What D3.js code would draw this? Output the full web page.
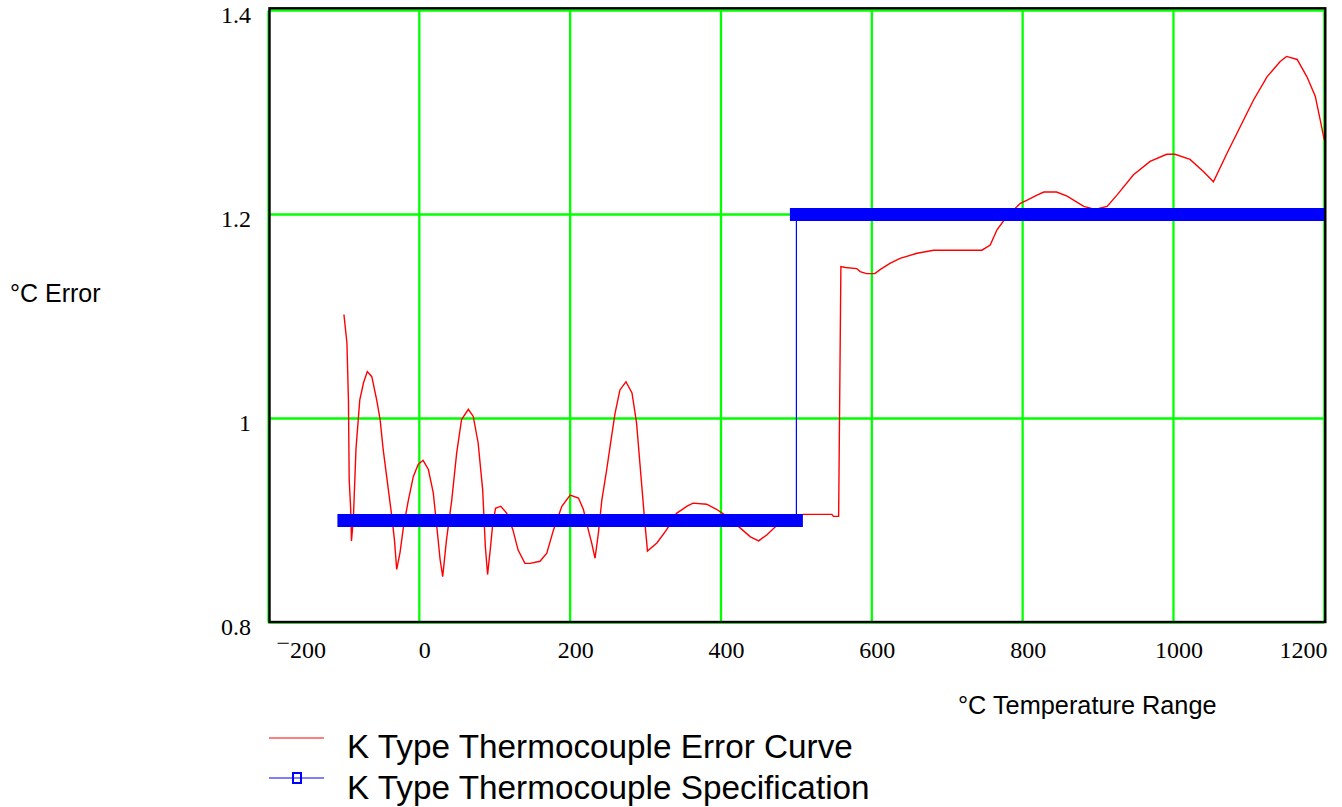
<!DOCTYPE html>
<html>
<head>
<meta charset="utf-8">
<script src="https://cdn.jsdelivr.net/npm/d3@7"></script>
<style>
  html, body { margin: 0; padding: 0; background: #fff; }
  svg { display: block; }
</style>
</head>
<body>
<svg id="chart" width="1342" height="807"></svg>
<script>
// ---- Data ----
const xTicks = [-200, 0, 200, 400, 600, 800, 1000, 1200];
const yTicks = [0.8, 1.0, 1.2, 1.4];
const yTickLabels = ["0.8", "1", "1.2", "1.4"];

// K type thermocouple error curve
const curveTemp = [-100,-96,-94,-93,-91,-90,-87.5,-84,-79,-74,-69,-63,-56.5,-52,-48,-41,-36.5,-33,-30,-25.5,-21,-14.5,-8,-1.5,5,12,18.5,24,27.5,31,36,43,49.5,56,65,71.5,78,84,87.5,90.5,94,97,101,108,116,124,131,140,147,160,169,178,189,200,211,217.5,224,228.5,233,237.5,242,248.5,253,259.5,266,274,282,288,293.5,298,302.5,315,328,341,355,363,381,394,408,425,439,450,461,478,500,509,547,549,556,559,565,580,584.5,593,604,611,624,637.5,660,682,746,757,766,779,797,806,819,828,845,859,881,896,912,925,947,969,991,1002,1022,1040,1053,1071,1088.5,1106,1124,1141.5,1150,1164,1177,1188,1194.5,1200];
const curveError = [1.102,1.074,1.018,0.940,0.911,0.880,0.901,0.970,1.018,1.035,1.046,1.041,1.018,0.999,0.970,0.930,0.904,0.881,0.852,0.869,0.894,0.920,0.943,0.955,0.959,0.950,0.927,0.888,0.862,0.845,0.881,0.920,0.966,0.999,1.009,1.002,0.976,0.930,0.875,0.847,0.871,0.894,0.912,0.914,0.907,0.891,0.871,0.858,0.858,0.860,0.868,0.891,0.914,0.925,0.922,0.911,0.891,0.878,0.863,0.888,0.920,0.950,0.973,1.005,1.028,1.036,1.025,0.996,0.947,0.907,0.870,0.878,0.891,0.907,0.914,0.917,0.916,0.911,0.904,0.893,0.884,0.880,0.886,0.898,0.904,0.906,0.906,0.904,0.904,1.149,1.148,1.147,1.144,1.142,1.142,1.146,1.152,1.157,1.162,1.165,1.165,1.170,1.185,1.198,1.211,1.214,1.219,1.222,1.222,1.218,1.208,1.205,1.208,1.219,1.239,1.252,1.259,1.259,1.254,1.242,1.232,1.260,1.286,1.312,1.335,1.350,1.355,1.352,1.335,1.316,1.293,1.273];

// K type thermocouple specification
const specTemp = [-100, 500, 500, 1200];
const specError = [0.9, 0.9, 1.2, 1.2];

const legendLabels = ["K Type Thermocouple Error Curve", "K Type Thermocouple Specification"];

// ---- Chart ----
const svg = d3.select("#chart");
svg.append("rect").attr("width", 1342).attr("height", 807).attr("fill", "#fff");

const x = d3.scaleLinear().domain([-200, 1200]).range([268.5, 1324.3]);
const y = d3.scaleLinear().domain([0.8, 1.4]).range([622.5, 10.5]);

const GREEN = "#00ff00";
const serif = "'Liberation Serif', 'Times New Roman', serif";
const sans = "'Liberation Sans', Arial, sans-serif";

svg.append("defs").append("clipPath").attr("id", "plotClip")
  .append("rect").attr("x", 269.5).attr("y", 8.3).attr("width", 1055.8).attr("height", 613.7);

// grid
const grid = svg.append("g");
grid.selectAll("line.vx").data(xTicks).join("line")
  .attr("x1", d => x(d)).attr("x2", d => x(d))
  .attr("y1", y(1.4)).attr("y2", y(0.8))
  .attr("stroke", GREEN).attr("stroke-width", 2.3);
grid.selectAll("line.hy").data(yTicks).join("line")
  .attr("x1", x(-200)).attr("x2", x(1200))
  .attr("y1", d => y(d)).attr("y2", d => y(d))
  .attr("stroke", GREEN).attr("stroke-width", 2.3);

const plot = svg.append("g").attr("clip-path", "url(#plotClip)");

// error curve
const curvePts = curveTemp.map((t, i) => [t, curveError[i]]);
plot.append("path")
  .datum(curvePts)
  .attr("fill", "none")
  .attr("stroke", "#ff0000")
  .attr("stroke-width", 1.4)
  .attr("stroke-linejoin", "miter")
  .attr("d", d3.line().x(d => x(d[0])).y(d => y(d[1])));

// specification: thin connecting line + thick marker band on each level
const specPts = specTemp.map((t, i) => [t, specError[i]]);
plot.append("path")
  .datum(specPts)
  .attr("fill", "none")
  .attr("stroke", "#0000ff")
  .attr("stroke-width", 1.2)
  .attr("d", d3.line().x(d => x(d[0])).y(d => y(d[1])));

const segs = [];
for (let i = 0; i < specPts.length - 1; i++) {
  if (specPts[i][1] === specPts[i + 1][1]) segs.push([specPts[i], specPts[i + 1]]);
}
plot.selectAll("line.band").data(segs).join("line")
  .attr("x1", d => x(d[0][0])).attr("x2", d => x(d[1][0]))
  .attr("y1", d => y(d[0][1])).attr("y2", d => y(d[1][1]))
  .attr("stroke", "#0000ff").attr("stroke-width", 13)
  .attr("stroke-linecap", "square");

// frame
svg.append("rect")
  .attr("x", 269.5).attr("y", 8.3).attr("width", 1055.8).attr("height", 613.7)
  .attr("fill", "none").attr("stroke", "#000").attr("stroke-width", 2.4);

// y axis
const yAxis = d3.axisLeft(y).tickValues(yTicks)
  .tickFormat((d, i) => yTickLabels[i]).tickSize(0).tickPadding(0);
const gy = svg.append("g").attr("transform", "translate(251,0)").call(yAxis);
gy.select(".domain").remove();
gy.selectAll("text")
  .attr("font-family", serif).attr("font-size", 24).attr("fill", "#000")
  .attr("dy", "0.52em");

// x axis
const xAxis = d3.axisBottom(x).tickValues(xTicks)
  .tickFormat(d => String(Math.abs(d))).tickSize(0).tickPadding(18.8);
const gx = svg.append("g").attr("transform", `translate(0,${y(0.8)})`).call(xAxis);
gx.select(".domain").remove();
gx.selectAll("text")
  .attr("font-family", serif).attr("font-size", 24).attr("fill", "#000")
  .attr("dy", 17)
  .each(function (d) {
    const t = d3.select(this);
    const s = String(Math.abs(d));
    t.text(null);
    if (d < 0) {
      t.append("tspan").attr("dy", 10).text("\u2212");
      t.append("tspan").attr("dy", 7).text(s);
    } else {
      t.text(s);
    }
  })
  .each(function (d) {
    const t = d3.select(this);
    const w = this.getComputedTextLength();
    let cx = x(d) + 5;
    const minL = 276, maxR = 1327;
    if (cx - w / 2 < minL) cx = minL + w / 2;
    if (cx + w / 2 > maxR) cx = maxR - w / 2;
    t.attr("dx", cx - x(d));
  });

// axis titles
svg.append("text").attr("x", 10).attr("y", 301.5)
  .attr("font-family", sans).attr("font-size", 25).attr("fill", "#000")
  .text("\u00B0C Error");
svg.append("text").attr("x", 958).attr("y", 714)
  .attr("font-family", sans).attr("font-size", 25.3).attr("fill", "#000")
  .text("\u00B0C Temperature Range");

// legend
const lg = svg.append("g");
const legendRows = [
  { label: legendLabels[0], color: "#ff0000", lineY: 738, textY: 758, marker: false },
  { label: legendLabels[1], color: "#0000ff", lineY: 778, textY: 799, marker: true }
];
legendRows.forEach(r => {
  lg.append("line").attr("x1", 269).attr("x2", 324)
    .attr("y1", r.lineY).attr("y2", r.lineY)
    .attr("stroke", r.color).attr("stroke-width", 1.2);
  if (r.marker) {
    lg.append("rect").attr("x", 293).attr("y", r.lineY - 5)
      .attr("width", 8).attr("height", 10)
      .attr("fill", "none").attr("stroke", r.color).attr("stroke-width", 2);
  }
  lg.append("text").attr("x", 347).attr("y", r.textY)
    .attr("font-family", sans).attr("font-size", 33.3).attr("fill", "#000")
    .text(r.label);
});
</script>
</body>
</html>
